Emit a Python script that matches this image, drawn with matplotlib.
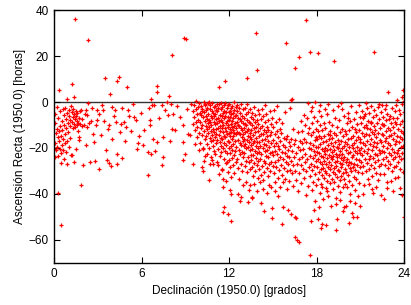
import numpy as np
import matplotlib
matplotlib.use('Agg')
import matplotlib.pyplot as plt

## data: (declinación [h], ascensión recta)
pts_00_01 = [(0.05,-5.0),(0.1,-9.3),(0.12,-13.5),(0.08,-17.8),(0.15,-21.0),(0.2,-11.6),(0.22,-19.4),(0.25,-15.2),(0.28,-23.6),(0.3,-7.1),
             (0.33,-12.8),(0.35,-17.0),(0.36,5.2),(0.38,-20.5),(0.4,-3.8),(0.42,-10.4),(0.45,-14.6),(0.47,-26.4),(0.5,-22.1),(0.52,-18.6),
             (0.55,-8.2),(0.57,-12.1),(0.6,-16.3),(0.62,-3.1),(0.64,-20.9),(0.66,-24.7),(0.68,-5.6),(0.7,-9.8),(0.72,-14.0),(0.75,-18.0),
             (0.78,-2.4),(0.8,-7.5),(0.82,-11.2),(0.84,-21.8),(0.86,1.4),(0.88,-16.9),(0.9,-4.6),(0.92,-26.8),(0.95,-9.0),(0.97,-13.1),
             (1.0,-6.2),(1.02,-19.6),(1.05,-3.5),(1.08,-10.6),(1.1,-15.5),(1.12,-7.8),(1.15,-23.2),(1.18,-1.8),(0.3,-39.6),(0.46,-53.6),
             (0.18,-2.2),(0.02,-20.3),(0.06,-24.1)]
pts_01_03 = [(1.22,-4.4),(1.25,-8.9),(1.28,-11.5),(1.3,-2.9),(1.33,-6.6),(1.36,2.2),(1.38,-9.7),(1.4,-5.1),(1.42,-7.3),(1.44,36.0),
             (1.45,-10.8),(1.48,-3.7),(1.5,-20.3),(1.52,-6.0),(1.55,-8.1),(1.58,-4.8),(1.6,-10.2),(1.62,-12.4),(1.65,-9.0),(1.68,-6.9),
             (1.72,-15.2),(1.75,-9.6),(1.8,-4.1),(1.83,-3.6),(1.85,-36.0),(1.9,-10.3),(1.95,-7.5),(2.0,-27.5),(2.05,-9.9),(2.1,-5.0),
             (2.17,-3.6),(2.22,-18.8),(2.25,-11.0),(2.29,-5.8),(2.33,27.0),(2.35,-0.3),(2.4,-9.2),(2.47,-26.1),(2.52,-8.4),(2.6,-2.6),
             (2.7,-13.8),(2.75,-17.4),(2.82,-25.8),(2.9,-10.1),(2.93,-3.6),(2.98,-8.0),(1.26,-23.2),(1.37,-26.1),(1.2,7.8),(1.7,-16.6)]
pts_03_06 = [(3.05,-29.0),(3.1,-5.4),(3.2,-14.5),(3.3,-1.2),(3.39,-3.6),(3.43,-8.4),(3.5,10.4),(3.55,-21.0),(3.66,-25.4),(3.7,-11.9),
             (3.78,-10.1),(3.78,-26.4),(3.84,3.4),(3.9,-27.8),(3.95,-16.3),(4.0,-2.2),(4.1,-6.1),(4.17,-3.6),(4.24,-8.7),(4.3,9.1),
             (4.3,-22.5),(4.35,-26.8),(4.46,10.8),(4.5,-13.2),(4.6,-9.4),(4.69,-2.6),(4.69,-24.3),(4.8,-8.7),(4.85,-17.0),(4.92,-10.9),
             (5.0,6.4),(5.04,-3.6),(5.15,-6.2),(5.3,-12.5),(5.4,-1.0),(5.5,-6.5),(5.6,-8.0),(5.7,-20.4),(5.78,-18.0),(5.84,-14.6),
             (5.95,-4.8),(6.07,-18.8),(6.2,-12.0),(6.41,-21.7),(6.42,-31.7),(6.5,-2.5)]
pts_06_10 = [(6.58,-8.0),(6.6,-10.1),(6.64,1.2),(6.64,-22.5),(6.75,-1.2),(6.76,-15.9),(6.87,-1.5),(6.92,-21.4),(7.04,7.0),(7.04,-17.4),
             (7.07,4.4),(7.2,-6.8),(7.38,-1.45),(7.38,-27.2),(7.45,-24.0),(7.5,-15.2),(7.6,-3.4),(7.72,0.0),(7.84,-5.8),(7.9,2.8),
             (8.0,-0.8),(7.95,-17.1),(8.07,20.4),(8.07,-11.6),(8.18,-5.1),(8.3,-12.3),(8.45,-1.9),(8.64,-6.5),(8.87,-10.1),(8.87,-17.4),
             (8.87,-25.4),(8.9,27.8),(9.05,27.6),(8.98,-22.5),(9.1,-3.0),(9.21,-13.8),(9.32,-14.5),(9.4,-0.7),(9.5,-26.8),
             (9.52,-4.1),(9.55,-9.6),(9.58,-1.3),(9.6,-6.7),(9.63,-12.0),(9.67,-18.1),(9.7,-3.2),(9.72,-8.5),(9.75,0.6),(9.78,-15.3),
             (9.8,-5.4),(9.83,-10.8),(9.86,-2.0),(9.9,-7.9),(9.93,-20.9),(9.95,-13.4),(9.97,-0.4),(9.99,-4.9)]
pts_10_11 = [(10.01,-17.7),(10.03,-8.8),(10.05,-1.6),(10.07,-11.4),(10.1,-5.7),(10.12,-28.3),(10.13,-14.2),(10.15,-2.9),(10.17,-9.9),(10.2,-19.8),
             (10.22,-6.4),(10.24,-20.6),(10.24,-30.1),(10.26,-0.2),(10.28,-12.7),(10.3,-4.3),(10.32,-16.1),(10.34,-8.1),(10.36,-23.3),(10.38,-1.1),
             (10.4,-10.5),(10.42,-6.0),(10.44,-14.9),(10.45,-3.5),(10.47,-22.5),(10.48,-11.8),(10.49,-7.2),(10.35,-0.9),(10.27,-25.6),(10.11,-3.9),
             (10.51,-18.4),(10.52,-2.4),(10.54,-9.3),(10.55,-13.6),(10.57,-5.0),(10.58,-0.6),(10.6,-20.2),(10.62,-7.7),(10.63,-11.0),(10.65,-34.1),
             (10.66,-27.0),(10.67,-3.0),(10.68,-15.8),(10.7,-8.6),(10.72,-1.3),(10.73,-12.4),(10.75,-17.0),(10.76,-5.9),(10.78,-24.0),(10.79,-10.1),
             (10.8,-3.8),(10.81,-25.4),(10.83,-14.4),(10.84,-7.0),(10.86,-0.4),(10.87,-19.1),(10.88,-11.7),(10.9,-4.6),(10.92,-26.8),(10.93,-16.6),
             (10.94,-8.9),(10.95,-2.1),(10.97,-13.0),(10.98,-21.4),(10.99,-6.3),(10.6,-0.1)]
pts_11_12 = [(11.01,-9.7),(11.02,-1.8),(11.03,-15.1),(11.05,-5.3),(11.06,-22.8),(11.08,-11.9),(11.09,-3.4),(11.1,-18.0),(11.12,-7.4),(11.13,-13.9),
             (11.15,-0.8),(11.16,-26.0),(11.18,-9.1),(11.19,-4.0),(11.2,-16.7),(11.22,-11.2),(11.23,-2.6),(11.25,-20.4),(11.26,-6.8),(11.27,-27.2),
             (11.28,-14.3),(11.3,-8.3),(11.31,-31.5),(11.32,6.4),(11.33,-1.0),(11.35,-17.5),(11.36,-10.4),(11.38,-5.7),(11.39,-23.4),(11.4,-12.8),
             (11.42,-3.0),(11.43,-19.3),(11.44,-8.0),(11.45,-15.6),(11.47,-0.3),(11.48,-6.2),(11.49,-29.6),(11.5,-29.3),(11.5,-11.5),(11.46,-21.9),
             (11.51,-2.2),(11.52,-16.2),(11.53,-8.7),(11.55,-13.1),(11.56,-37.0),(11.56,-4.9),(11.58,-19.9),(11.6,-47.9),(11.6,-10.0),(11.61,-33.6),
             (11.62,-1.5),(11.63,-24.6),(11.64,-14.8),(11.65,-7.1),(11.66,-45.5),(11.67,-17.9),(11.68,-3.7),(11.7,-11.3),(11.71,-21.1),(11.72,-6.0),
             (11.73,9.1),(11.74,-15.4),(11.75,-0.6),(11.76,-9.2),(11.77,-26.7),(11.79,-34.5),(11.8,-12.6),(11.81,-4.3),(11.82,-18.8),(11.84,-26.1),
             (11.85,-8.4),(11.86,-2.8),(11.87,-14.0),(11.88,-22.3),(11.9,-48.7),(11.9,-6.6),(11.91,-11.0),(11.92,-30.4),(11.93,-1.2),(11.94,-16.9),
             (11.95,-9.8),(11.96,-20.0),(11.97,-4.5),(11.98,-13.3),(11.99,-25.1)]
pts_12_13 = [(12.0,-7.8),(12.01,-0.9),(12.02,-17.3),(12.03,-11.8),(12.04,-3.9),(12.05,-22.0),(12.06,-14.6),(12.07,-28.3),(12.07,-38.1),(12.08,-6.5),
             (12.1,-51.6),(12.1,-9.5),(12.11,-19.2),(12.12,-2.4),(12.13,-32.6),(12.14,-39.9),(12.14,-13.0),(12.15,-5.1),(12.17,-24.4),(12.18,-10.7),
             (12.19,-16.0),(12.2,-1.7),(12.21,-8.2),(12.22,-20.8),(12.24,-12.2),(12.25,-4.7),(12.26,-27.5),(12.27,-15.0),(12.28,-7.0),(12.3,-18.4),
             (12.31,-0.2),(12.32,-10.3),(12.33,-23.2),(12.35,-3.3),(12.36,-13.7),(12.37,-30.9),(12.38,-6.1),(12.4,-17.0),(12.41,-9.0),(12.42,-21.5),
             (12.44,-2.0),(12.45,-11.4),(12.46,-26.2),(12.48,-14.1),(12.49,-5.5),
             (12.5,-19.6),(12.51,-8.7),(12.53,-1.4),(12.54,-12.9),(12.55,-24.7),(12.57,-4.1),(12.58,-16.4),(12.6,-9.9),(12.62,-28.9),(12.63,-6.8),
             (12.64,-39.9),(12.65,-13.4),(12.66,-20.9),(12.68,-2.7),(12.69,-10.6),(12.7,-33.3),(12.72,-17.7),(12.73,-7.4),(12.75,-22.6),(12.76,-14.0),
             (12.78,-4.8),(12.79,-11.3),(12.8,-26.9),(12.82,-18.9),(12.83,-8.1),(12.84,-0.8),(12.86,-15.3),(12.87,-21.8),(12.88,-12.0),(12.9,-30.2),
             (12.91,-5.9),(12.92,-17.1),(12.93,-36.2),(12.95,-9.3),(12.96,-24.0),(12.97,-13.8),(12.98,-3.2),(12.99,-19.0),(12.74,-43.0),(12.85,-41.5)]
pts_13_14 = [(13.0,-11.1),(13.02,-7.0),(13.03,-22.4),(13.05,-15.9),(13.06,-2.6),(13.08,-27.8),(13.09,-9.6),(13.1,-18.3),(13.12,-13.0),(13.13,-34.8),
             (13.15,-5.3),(13.16,-20.1),(13.18,-10.2),(13.19,-25.6),(13.2,-16.5),(13.22,-1.0),(13.23,-12.5),(13.24,10.4),(13.25,-30.6),(13.26,-7.9),
             (13.28,-19.4),(13.29,-14.6),(13.3,-23.9),(13.32,-4.2),(13.33,-11.8),(13.35,-38.4),(13.36,-17.2),(13.37,-8.8),(13.39,-26.3),(13.4,-21.0),
             (13.41,-13.6),(13.43,-3.0),(13.44,-29.3),(13.45,-15.2),(13.46,-9.1),(13.47,-22.9),(13.48,-18.6),(13.49,-6.4),(13.42,-36.0),(13.27,-43.5),
             (13.5,-12.1),(13.52,-25.1),(13.53,-16.0),(13.54,-4.9),(13.56,-41.9),(13.56,-20.5),(13.58,-10.0),(13.6,-41.2),(13.6,-28.2),(13.61,-14.3),
             (13.63,-7.2),(13.64,-32.0),(13.65,-18.0),(13.67,-23.0),(13.68,-2.1),(13.7,-11.5),(13.71,-35.5),(13.72,-16.8),(13.74,-26.7),(13.75,-8.5),
             (13.76,-21.3),(13.78,-13.2),(13.79,-30.0),(13.8,-5.7),(13.82,-19.1),(13.83,-24.4),(13.85,30.0),(13.85,-10.9),(13.86,-15.6),(13.88,-38.9),
             (13.89,-27.4),(13.9,13.9),(13.9,-7.7),(13.92,-22.1),(13.93,-17.5),(13.95,-12.6),(13.96,-33.0),(13.97,-3.6),(13.98,-25.8),(13.99,-19.8)]
pts_14_15 = [(14.0,-9.4),(14.02,-14.9),(14.03,-29.1),(14.05,-21.7),(14.06,-5.0),(14.08,-17.4),(14.1,-35.0),(14.11,-11.2),(14.13,-24.9),(14.15,-19.0),
             (14.16,-7.3),(14.18,-31.6),(14.2,-13.8),(14.21,-22.8),(14.23,-2.9),(14.25,-16.6),(14.26,-27.9),(14.28,-10.3),(14.3,-20.0),(14.31,-37.7),
             (14.33,-14.1),(14.35,-6.0),(14.36,-25.5),(14.38,-18.2),(14.4,-47.4),(14.4,-12.3),(14.42,-30.5),(14.43,-21.2),(14.45,-8.6),(14.46,-16.0),
             (14.48,-26.4),(14.49,-1.5),(14.6,-39.7),(14.35,-33.8),(14.22,-44.0),
             (14.5,-13.2),(14.52,-23.4),(14.54,-18.6),(14.55,-5.4),(14.57,-28.6),(14.58,-10.8),(14.6,-20.9),(14.62,-15.0),(14.64,-32.2),(14.65,-8.0),
             (14.67,-24.1),(14.69,-17.0),(14.7,-12.0),(14.72,-35.9),(14.74,-27.0),(14.75,-19.5),(14.77,-4.0),(14.79,-22.0),(14.8,-14.4),(14.82,-29.8),
             (14.84,-9.7),(14.85,-25.9),(14.87,-17.8),(14.89,-37.0),(14.9,-12.9),(14.92,-21.6),(14.93,-50.3),(14.95,-6.8),(14.97,-45.9),(14.98,-27.7)]
pts_15_17 = [(15.0,-16.4),(15.02,-23.0),(15.04,-10.9),(15.06,-30.8),(15.08,-19.3),(15.1,-3.4),(15.12,-26.0),(15.14,-14.0),(15.16,-21.4),(15.18,-34.6),
             (15.2,-8.9),(15.22,-17.9),(15.24,-28.4),(15.26,-12.5),(15.28,-22.6),(15.3,-1.9),(15.32,-32.9),(15.34,-19.0),(15.36,-15.4),(15.38,-25.2),
             (15.4,-7.5),(15.42,-29.4),(15.44,-20.6),(15.46,-11.6),(15.48,-36.8),(15.5,-24.0),(15.35,-41.0),(15.15,-38.5),
             (15.52,-17.0),(15.55,-27.5),(15.58,-13.5),(15.6,-53.2),(15.62,-21.8),(15.64,-31.7),(15.66,-9.2),(15.68,-24.6),(15.7,-45.6),(15.7,-18.8),
             (15.72,-35.0),(15.75,-15.6),(15.77,-28.9),(15.8,-22.2),(15.82,-4.5),(15.84,-33.3),(15.86,-19.7),(15.88,-26.2),(15.9,25.6),(15.92,-16.2),
             (15.94,-38.0),(15.96,-23.3),(15.98,-30.1),(16.0,-14.8),(16.02,-20.7),(16.04,-27.0),(16.07,-47.1),(16.08,-17.6),(16.1,-34.2),(16.12,-24.0),
             (16.15,-2.4),(16.17,-29.5),(16.2,-19.0),(16.22,-25.6),(16.25,0.9),(16.25,-48.7),(16.27,-15.9),(16.3,1.2),(16.3,-31.1),(16.33,-21.4),
             (16.36,-27.3),(16.38,-11.6),(16.4,-36.6),(16.43,-18.2),(16.46,-23.8),(16.5,-58.8),(16.5,-50.1),(16.52,-29.9),(16.55,14.9),(16.55,-16.5),
             (16.57,-50.3),(16.6,-22.1),(16.62,-33.9),(16.64,-60.0),(16.66,-26.8),(16.7,-13.0),(16.72,-19.6),(16.75,-38.9),(16.78,-24.6),(16.8,19.7),
             (16.8,-61.0),(16.82,-30.7),(16.85,-16.9),(16.88,-21.0),(16.9,-8.4),(16.92,-27.2),(16.95,-35.2),(16.98,-18.0)]
pts_17_18 = [(17.0,-24.0),(17.03,-12.4),(17.06,-29.0),(17.08,-20.4),(17.1,-5.6),(17.12,-33.0),(17.15,-15.9),(17.18,-26.0),(17.2,-9.8),(17.22,-22.8),
             (17.25,-40.6),(17.26,35.6),(17.28,-17.3),(17.3,-30.2),(17.33,-7.0),(17.36,-24.9),(17.38,-13.6),(17.4,-0.5),(17.42,-36.7),(17.45,-19.8),
             (17.48,-28.1),(17.56,21.9),(17.56,-66.5),(17.6,-51.6),
             (17.5,-11.2),(17.52,-23.6),(17.54,-17.7),(17.55,-32.1),(17.58,-4.1),(17.6,-26.9),(17.62,-14.4),(17.64,-20.3),(17.66,-38.4),(17.68,-9.0),
             (17.7,-29.6),(17.72,-18.5),(17.74,-24.3),(17.76,-13.0),(17.78,-34.8),(17.8,-21.2),(17.82,-6.6),(17.84,-27.8),(17.86,-16.4),(17.88,-43.2),
             (17.9,0.1),(17.9,-22.9),(17.92,-31.2),(17.94,-11.9),(17.96,-19.4),(17.98,-25.7),(17.99,-36.0),(17.7,-2.2),(17.85,-47.0),(17.95,-15.3)]
pts_18_19 = [(18.0,-8.2),(18.02,-21.7),(18.03,-28.4),(18.05,-16.0),(18.06,21.4),(18.06,-51.0),(18.07,-33.4),(18.09,-12.7),(18.1,-24.8),(18.12,-19.6),
             (18.14,-3.9),(18.15,-30.3),(18.17,-22.0),(18.18,-14.9),(18.2,-39.6),(18.22,-26.3),(18.23,-10.1),(18.25,-18.1),(18.27,-29.0),(18.28,-23.4),
             (18.3,-54.6),(18.3,-35.7),(18.32,-15.6),(18.33,-6.3),(18.35,-27.1),(18.36,-53.0),(18.37,-20.6),(18.39,-31.8),(18.4,-12.2),(18.42,-24.1),
             (18.44,-17.4),(18.45,-42.0),(18.47,-28.7),(18.48,-21.3),(18.49,-9.0),(18.2,-1.5),(18.38,-36.9),(18.13,-45.8),
             (18.5,-33.0),(18.52,-25.5),(18.53,-15.0),(18.55,-19.9),(18.57,-29.9),(18.58,-22.6),(18.6,-11.4),(18.62,-37.3),(18.63,-26.8),(18.65,-17.1),
             (18.66,-53.6),(18.67,-31.0),(18.69,-21.0),(18.7,-5.2),(18.72,-24.2),(18.73,-34.4),(18.75,-13.9),(18.77,-28.1),(18.78,-18.7),(18.8,-40.8),
             (18.82,-23.0),(18.83,-31.9),(18.85,-8.6),(18.87,-26.0),(18.88,-16.3),(18.9,-20.4),(18.92,-35.2),(18.93,-29.2),(18.95,-12.8),(18.97,-23.9),
             (18.98,-45.1),(18.99,-18.0),(18.6,-2.9),(18.81,-1.0),(18.9,-14.5),(18.7,-38.8)]
pts_19_20 = [(19.0,-27.3),(19.02,-21.8),(19.03,-33.7),(19.05,-15.8),(19.07,-25.0),(19.08,-9.8),(19.1,-30.6),(19.12,-19.1),(19.13,-38.0),(19.15,-23.3),
             (19.17,-13.5),(19.18,-28.6),(19.2,17.8),(19.2,-20.7),(19.22,-34.9),(19.23,-26.2),(19.25,-6.9),(19.27,-17.5),(19.28,-31.4),(19.3,-55.6),
             (19.3,-22.5),(19.32,-41.8),(19.33,-14.2),(19.35,-27.9),(19.37,-24.0),(19.38,-19.4),(19.4,-51.0),(19.4,-32.8),(19.42,-11.0),(19.43,-25.8),
             (19.45,-36.4),(19.47,-20.0),(19.48,-29.5),(19.49,-16.6),(19.1,-3.5),(19.35,-44.3),(19.45,-1.8),
             (19.5,-23.1),(19.52,-30.0),(19.53,-8.0),(19.55,-18.4),(19.57,-26.6),(19.58,-34.0),(19.6,-13.1),(19.62,-21.2),(19.63,-39.2),(19.65,-28.3),
             (19.67,-16.9),(19.68,-24.5),(19.7,-0.5),(19.7,-32.0),(19.72,-19.8),(19.73,-11.7),(19.75,-27.0),(19.77,-22.7),(19.78,-37.1),(19.8,-47.4),
             (19.8,-15.0),(19.82,-30.9),(19.83,-25.2),(19.85,-5.9),(19.87,-19.0),(19.88,-33.6),(19.9,-45.5),(19.9,-23.8),(19.92,-12.4),(19.93,-29.0),
             (19.95,-17.6),(19.97,-35.7),(19.98,-26.0),(20.0,-45.2),(19.6,-42.5),(19.75,-3.0)]
pts_20_21 = [(20.0,-21.0),(20.02,-14.0),(20.03,-30.4),(20.05,-9.3),(20.07,-24.7),(20.08,-18.3),(20.1,-36.9),(20.12,-27.6),(20.13,-16.0),(20.15,-22.3),
             (20.17,-4.6),(20.18,-31.7),(20.2,-52.7),(20.2,-12.2),(20.22,-25.9),(20.23,-19.4),(20.25,-34.3),(20.27,-28.8),(20.28,-8.4),(20.3,-21.7),
             (20.32,-40.2),(20.33,-15.5),(20.35,-26.5),(20.37,-1.7),(20.38,-30.0),(20.4,-48.4),(20.4,-18.9),(20.42,-11.0),(20.43,-24.0),(20.45,-36.0),
             (20.46,-50.1),(20.47,-20.2),(20.48,-28.1),(20.3,-43.0),(20.15,-6.9),
             (20.5,-14.8),(20.52,-23.1),(20.53,-32.7),(20.55,-7.5),(20.57,-18.0),(20.58,-26.9),(20.6,-11.6),(20.62,-21.5),(20.63,-38.2),(20.65,-29.7),
             (20.67,-4.2),(20.68,-16.7),(20.7,-24.6),(20.72,-13.1),(20.73,-33.6),(20.75,-19.6),(20.76,-49.9),(20.77,-27.4),(20.78,-9.6),(20.8,-22.3),
             (20.82,-41.0),(20.83,-15.2),(20.85,-30.5),(20.87,-1.2),(20.88,-20.8),(20.9,-25.3),(20.92,-12.0),(20.93,-35.1),(20.95,-17.4),(20.97,-28.2),
             (20.98,-6.4),(21.0,-45.2),(20.99,-22.0),(20.65,-44.0)]
pts_21_22 = [(21.0,-16.1),(21.02,-9.0),(21.04,-26.1),(21.06,-20.0),(21.08,-3.8),(21.1,-13.5),(21.12,-31.0),(21.14,-23.0),(21.16,-7.1),(21.18,-17.8),
             (21.2,-27.9),(21.22,-11.0),(21.24,-21.3),(21.26,-36.2),(21.28,-15.0),(21.3,-5.3),(21.32,-24.8),(21.34,-18.8),(21.36,-9.8),(21.38,-30.0),
             (21.4,-13.8),(21.42,-22.2),(21.44,-2.5),(21.46,-26.6),(21.48,-16.9),(21.5,-33.4),(21.2,-40.0),(21.35,-0.4),(21.45,-11.3),(21.25,-6.0),
             (21.52,-8.2),(21.54,-20.5),(21.56,-14.5),(21.58,-25.0),(21.6,-4.9),(21.62,-29.3),(21.64,-18.2),(21.66,-11.7),(21.68,-23.6),(21.7,-1.8),
             (21.72,-16.0),(21.74,-27.2),(21.76,-9.3),(21.78,-21.0),(21.8,-38.0),(21.8,-13.0),(21.82,-32.0),(21.84,-6.6),(21.86,-39.4),(21.86,-19.0),
             (21.88,-24.4),(21.9,21.6),(21.9,-14.0),(21.92,-28.6),(21.94,-3.3),(21.96,-17.2),(21.98,-22.6),(21.6,-35.5),(21.7,-8.7),(21.95,-10.5)]
pts_22_23 = [(22.0,-26.0),(22.02,-12.1),(22.04,-19.7),(22.06,-5.6),(22.08,-30.8),(22.1,-15.2),(22.12,-23.0),(22.14,-9.0),(22.16,-18.0),(22.18,-34.0),
             (22.2,-2.0),(22.22,-25.2),(22.24,-13.4),(22.26,-20.7),(22.28,-7.6),(22.3,-28.0),(22.32,-16.4),(22.34,-11.2),(22.36,-22.0),(22.38,-40.5),
             (22.4,-4.4),(22.42,-17.6),(22.44,-26.8),(22.46,-13.9),(22.48,-21.3),(22.5,-9.5),(22.25,-0.8),(22.1,-36.9),(22.35,-31.5),(22.45,-1.4),
             (22.52,-19.0),(22.54,-6.7),(22.56,-24.6),(22.58,-14.3),(22.6,-31.3),(22.62,-10.2),(22.64,-21.9),(22.66,-3.0),(22.68,-17.0),(22.7,-27.6),
             (22.72,-12.6),(22.74,-8.0),(22.76,-23.8),(22.78,-15.8),(22.8,-35.0),(22.82,-5.0),(22.84,-20.1),(22.86,-28.9),(22.88,-11.3),(22.9,4.4),
             (22.9,-17.8),(22.92,-25.5),(22.94,-7.2),(22.96,-14.9),(22.98,-22.4),(22.6,-42.0),(22.75,-1.1),(22.85,-37.5),(22.55,-9.9)]
pts_23_24 = [(23.0,-12.0),(23.02,-27.0),(23.04,-18.9),(23.06,-5.9),(23.08,-23.1),(23.1,-34.3),(23.1,-14.2),(23.12,-9.1),(23.14,-20.6),(23.16,-30.0),
             (23.18,-2.6),(23.2,-16.1),(23.22,-25.0),(23.24,-11.0),(23.26,-6.8),(23.28,-21.7),(23.3,-28.2),(23.32,-13.6),(23.34,-18.4),(23.36,-4.0),
             (23.38,-33.0),(23.4,-24.0),(23.42,-9.7),(23.44,-16.8),(23.46,-1.2),(23.48,-22.2),(23.5,0.9),(23.2,-38.6),(23.35,-8.5),(23.45,-27.9),
             (23.52,-14.6),(23.54,-7.0),(23.56,-20.9),(23.58,-26.3),(23.6,-11.8),(23.6,-32.7),(23.62,-3.5),(23.64,-17.4),(23.66,-23.4),(23.68,-9.4),
             (23.7,-37.5),(23.7,-15.1),(23.72,-29.0),(23.74,-5.2),(23.76,-19.6),(23.78,-12.6),(23.8,-25.0),(23.82,-1.0),(23.84,-16.2),(23.85,2.2),
             (23.85,-40.4),(23.86,-22.0),(23.88,-8.3),(23.9,5.2),(23.9,-13.7),(23.92,-30.6),(23.94,-19.0),(23.96,-50.1),(23.96,-4.4),(23.98,-10.7),
             (23.99,-24.5),(23.99,3.0),(23.97,0.5)]

groups = [pts_00_01, pts_01_03, pts_03_06, pts_06_10, pts_10_11, pts_11_12, pts_12_13,
          pts_13_14, pts_14_15, pts_15_17, pts_17_18, pts_18_19, pts_19_20, pts_20_21,
          pts_21_22, pts_22_23, pts_23_24]
pts = np.array([p for g in groups for p in g])
decl = pts[:, 0]
asc = pts[:, 1]

x_ticks = [0, 6, 12, 18, 24]
y_ticks = [-60, -40, -20, 0, 20, 40]

plt.rcParams['font.family'] = ['Liberation Sans', 'DejaVu Sans']

fig = plt.figure(figsize=(4.11, 3.05), dpi=100)
ax = fig.add_axes([0.1314, 0.138, 0.852, 0.829])

ax.axhline(0, color='#333333', lw=1.0, zorder=1)
ax.plot(decl, asc, '+', color='red', markersize=3.2, mew=0.9, zorder=2)

ax.set_xlim(0, 24)
ax.set_ylim(-70, 40)
ax.set_xticks(x_ticks)
ax.set_yticks(y_ticks)
ax.set_yticklabels([str(t).replace('-', '\u2212') for t in y_ticks])
ax.tick_params(direction='in', length=4, width=0.8, top=True, right=True,
               labelsize=8.5, colors='black', pad=4)
for s in ax.spines.values():
    s.set_linewidth(1.0)

ax.set_xlabel('Declinación (1950.0) [grados]', fontsize=8.5, labelpad=3)
ax.set_ylabel('Ascensión Recta (1950.0) [horas]', fontsize=8.5, labelpad=2)

plt.savefig('out.png', dpi=100)
